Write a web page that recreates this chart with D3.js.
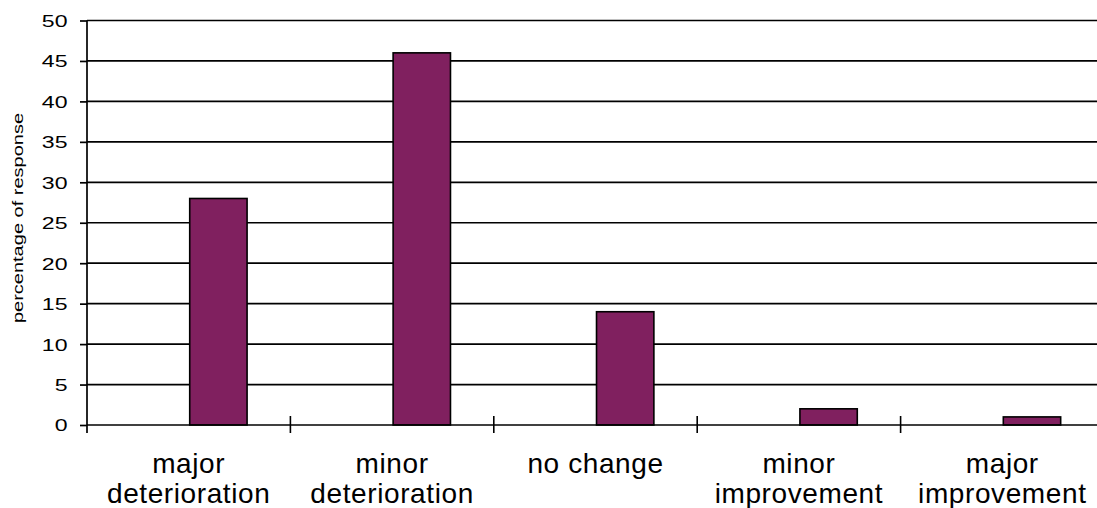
<!DOCTYPE html>
<html>
<head>
<meta charset="utf-8">
<script src="https://cdn.jsdelivr.net/npm/d3@7"></script>
<style>
  body { margin: 0; background: #fff; }
  svg { display: block; }
  text { font-family: "Liberation Sans", Arial, sans-serif; fill: #000; }
</style>
</head>
<body>
<svg id="chart"></svg>
<script>
const width = 1097;
const height = 508;

const categories = [
    ['major', 'deterioration'],
    ['minor', 'deterioration'],
    ['no change'],
    ['minor', 'improvement'],
    ['major', 'improvement'],
];
const values = [28, 46, 14, 2, 1];
const yTicks = [0, 5, 10, 15, 20, 25, 30, 35, 40, 45, 50];

const margin = { top: 20.5, left: 87, bottom: 83 };
const plotRight = 1104;

const svg = d3.select('#chart')
    .attr('width', width)
    .attr('height', height);

const x = d3.scaleBand()
    .domain(d3.range(categories.length))
    .range([margin.left, plotRight]);

const y = d3.scaleLinear()
    .domain([0, 50])
    .range([height - margin.bottom, margin.top]);

const y0 = y(0);

// gridlines
svg.append('g')
    .selectAll('line')
    .data(yTicks.filter(d => d > 0))
    .enter().append('line')
    .attr('x1', margin.left)
    .attr('x2', width)
    .attr('y1', d => y(d))
    .attr('y2', d => y(d))
    .style('stroke', '#000')
    .style('stroke-width', 1.7);

// bars, sitting in the right half of each band
svg.append('g')
    .selectAll('rect')
    .data(values)
    .enter().append('rect')
    .attr('x', (d, i) => x(i) + x.bandwidth() * 0.505)
    .attr('width', x.bandwidth() * 0.282)
    .attr('y', d => y(d))
    .attr('height', d => y0 - y(d))
    .style('fill', '#80205F')
    .style('stroke', '#000')
    .style('stroke-width', 1.6);

// y axis
const yAxis = svg.append('g')
    .attr('transform', `translate(${margin.left},0)`)
    .call(d3.axisLeft(y).tickValues(yTicks).tickSize(7));
yAxis.select('.domain').remove();
yAxis.append('line')
    .attr('y1', margin.top)
    .attr('y2', y0 + 8)
    .style('stroke', '#000')
    .style('stroke-width', 1.7);
yAxis.selectAll('.tick line').style('stroke', '#000').style('stroke-width', 1.7);
// the y-side type in the original is drawn wide, so stretch it sideways
yAxis.selectAll('.tick text')
    .attr('x', 0)
    .attr('dy', '0.36em')
    .attr('transform', 'translate(-19.5,0) scale(1.4,1)')
    .style('font-size', '16.5px');

// x axis line and band-boundary ticks
svg.append('line')
    .attr('x1', margin.left)
    .attr('x2', width)
    .attr('y1', y0)
    .attr('y2', y0)
    .style('stroke', '#000')
    .style('stroke-width', 1.7);

svg.append('g')
    .selectAll('line')
    .data(d3.range(1, categories.length))
    .enter().append('line')
    .attr('x1', i => x(i))
    .attr('x2', i => x(i))
    .attr('y1', y0 - 9)
    .attr('y2', y0 + 8)
    .style('stroke', '#000')
    .style('stroke-width', 1.6);

// category labels
const label = svg.append('g')
    .selectAll('text')
    .data(categories)
    .enter().append('text')
    .attr('x', (d, i) => x(i) + x.bandwidth() / 2)
    .attr('y', y0 + 47.5)
    .attr('text-anchor', 'middle')
    .style('font-size', '28px')
    .style('letter-spacing', '0.6px');
label.selectAll('tspan')
    .data(d => d)
    .enter().append('tspan')
    .attr('x', function () { return this.parentNode.getAttribute('x'); })
    .attr('dy', (d, i) => i === 0 ? 0 : 30)
    .text(d => d);

// y title
svg.append('text')
    .attr('transform', `translate(23,218) rotate(-90) scale(1.43,1)`)
    .attr('text-anchor', 'middle')
    .style('font-size', '14px')
    .text('percentage of response');
</script>
</body>
</html>
